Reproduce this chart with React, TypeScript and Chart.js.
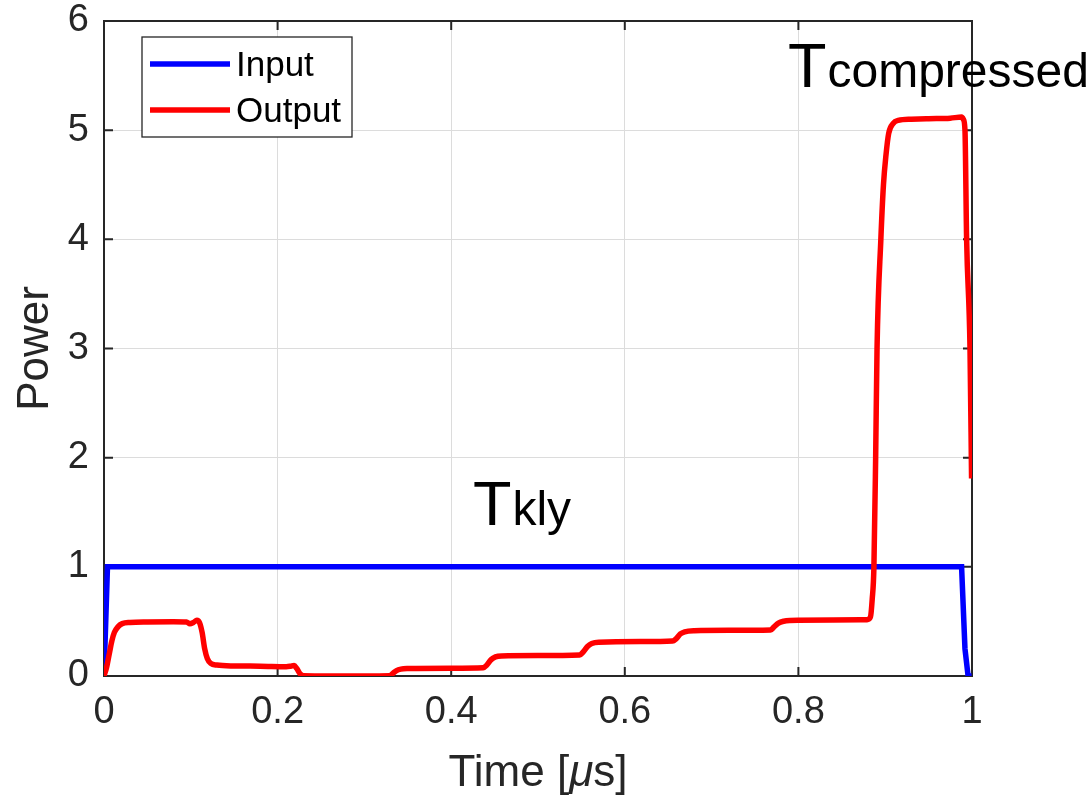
import React, { useEffect, useRef } from 'react';
import { Chart, registerables } from 'chart.js';

Chart.register(...registerables);

// ---------- data ----------
const seriesLabels = ['Input', 'Output'];

const inputTime = [0, 0.004, 0.988, 0.9919, 0.9955, 0.9995];
const inputPower = [0, 1, 1, 0.25, 0, 0];

const outputTime = [
  0, 0.003, 0.006, 0.009, 0.012, 0.016, 0.021, 0.03, 0.05, 0.08, 0.095, 0.099, 0.103, 0.107,
  0.11, 0.113, 0.116, 0.119, 0.123, 0.13, 0.15, 0.18, 0.21, 0.215, 0.219, 0.222, 0.226, 0.23,
  0.26, 0.3, 0.329, 0.333, 0.337, 0.342, 0.35, 0.4, 0.437, 0.441, 0.446, 0.451, 0.458, 0.5,
  0.548, 0.552, 0.557, 0.562, 0.57, 0.62, 0.655, 0.659, 0.664, 0.669, 0.68, 0.72, 0.768,
  0.772, 0.777, 0.783, 0.79, 0.84, 0.879, 0.883, 0.885, 0.887, 0.889, 0.8906, 0.895, 0.898,
  0.901, 0.904, 0.909, 0.915, 0.93, 0.95, 0.975, 0.988, 0.99, 0.9919, 0.9938, 0.9977, 0.9995,
];
const outputPower = [
  0, 0.08, 0.2, 0.32, 0.4, 0.45, 0.48, 0.49, 0.495, 0.497, 0.495, 0.478, 0.49, 0.51,
  0.49, 0.4, 0.25, 0.16, 0.115, 0.1, 0.092, 0.09, 0.085, 0.09, 0.097, 0.07, 0.02, 0.002,
  0, 0, 0.002, 0.025, 0.05, 0.063, 0.068, 0.072, 0.076, 0.1, 0.15, 0.175, 0.184, 0.188,
  0.193, 0.22, 0.27, 0.298, 0.31, 0.315, 0.32, 0.34, 0.385, 0.405, 0.415, 0.418, 0.422,
  0.45, 0.485, 0.502, 0.508, 0.512, 0.515, 0.54, 0.7, 1.0, 2.0, 3.0, 4.0, 4.5,
  4.78, 4.97, 5.06, 5.09, 5.1, 5.105, 5.11, 5.12, 5.1, 5.0, 4.0, 3.0, 1.81,
];

const xTicks = [0, 0.2, 0.4, 0.6, 0.8, 1];
const yTicks = [0, 1, 2, 3, 4, 5, 6];

const xTitleParts = ['Time [', '\u03bc', 's]'];
const yTitle = 'Power';
const annotationMain = ['T', 'T'];
const annotationSub = ['compressed', 'kly'];

// ---------- styles ----------
const FONT = '"Liberation Sans", Arial, Helvetica, sans-serif';
const AXIS_COLOR = '#262626';
const TICK_SIZE = 38;
const TITLE_SIZE = 44;
const LEGEND_SIZE = 35;
const LINE_W = 5.5;

const annotationPos = [
  { x: 0.788, y: 5.395 },
  { x: 0.425, y: 1.383 },
];

const boxPlugin = {
  id: 'matlabBox',
  beforeDatasetsDraw(chart: any) {
    const { ctx, chartArea: a, scales } = chart;
    const xs = scales.x;
    const ys = scales.y;
    ctx.save();
    ctx.strokeStyle = AXIS_COLOR;
    ctx.lineWidth = 2;
    ctx.strokeRect(a.left, a.top, a.right - a.left, a.bottom - a.top);
    const tl = 9;
    ctx.beginPath();
    xTicks.forEach((v) => {
      const px = xs.getPixelForValue(v);
      ctx.moveTo(px, a.bottom);
      ctx.lineTo(px, a.bottom - tl);
      ctx.moveTo(px, a.top);
      ctx.lineTo(px, a.top + tl);
    });
    yTicks.forEach((v) => {
      const py = ys.getPixelForValue(v);
      ctx.moveTo(a.left, py);
      ctx.lineTo(a.left + tl, py);
      ctx.moveTo(a.right, py);
      ctx.lineTo(a.right - tl, py);
    });
    ctx.stroke();
    ctx.restore();
  },
};

const overlayPlugin = {
  id: 'matlabOverlay',
  afterDraw(chart: any) {
    const { ctx, chartArea: a, scales } = chart;
    const xs = scales.x;
    const ys = scales.y;
    ctx.save();

    // annotations
    ctx.fillStyle = '#000000';
    ctx.textBaseline = 'alphabetic';
    ctx.textAlign = 'left';
    annotationPos.forEach((p, i) => {
      const px = xs.getPixelForValue(p.x);
      const py = ys.getPixelForValue(p.y);
      ctx.font = `63px ${FONT}`;
      ctx.fillText(annotationMain[i], px, py);
      const w = ctx.measureText(annotationMain[i]).width;
      ctx.font = `48px ${FONT}`;
      ctx.fillText(annotationSub[i], px + w + 1, py);
    });

    // x title with italic mu
    ctx.fillStyle = AXIS_COLOR;
    const normal = `${TITLE_SIZE}px ${FONT}`;
    const italic = `italic ${TITLE_SIZE}px ${FONT}`;
    const fonts = [normal, italic, normal];
    let total = 0;
    const widths = xTitleParts.map((t, i) => {
      ctx.font = fonts[i];
      const w = ctx.measureText(t).width;
      total += w;
      return w;
    });
    let x = (a.left + a.right) / 2 - total / 2;
    const ty = 786;
    xTitleParts.forEach((t, i) => {
      ctx.font = fonts[i];
      ctx.fillText(t, x, ty);
      x += widths[i];
    });

    // legend
    const lx = 142, ly = 37, lw = 210, lh = 100;
    ctx.fillStyle = '#ffffff';
    ctx.fillRect(lx, ly, lw, lh);
    ctx.strokeStyle = AXIS_COLOR;
    ctx.lineWidth = 1.3;
    ctx.strokeRect(lx, ly, lw, lh);
    const rows = [64, 110];
    chart.data.datasets.forEach((ds: any, i: number) => {
      const ry = rows[i];
      ctx.strokeStyle = ds.borderColor;
      ctx.lineWidth = LINE_W;
      ctx.beginPath();
      ctx.moveTo(150, ry);
      ctx.lineTo(230, ry);
      ctx.stroke();
      ctx.fillStyle = '#000000';
      ctx.font = `${LEGEND_SIZE}px ${FONT}`;
      ctx.textBaseline = 'middle';
      ctx.fillText(ds.label, 236, ry + 2);
    });
    ctx.restore();
  },
};

export default function App() {
  const canvasRef = useRef<HTMLCanvasElement | null>(null);

  useEffect(() => {
    document.body.style.margin = '0';
    const canvas = canvasRef.current;
    if (!canvas) return;
    const inputData = inputTime.map((t, i) => ({ x: t, y: inputPower[i] }));
    const outputData = outputTime.map((t, i) => ({ x: t, y: outputPower[i] }));

    const chart = new Chart(canvas, {
      type: 'line',
      data: {
        datasets: [
          {
            label: seriesLabels[0],
            data: inputData,
            borderColor: '#0000ff',
            backgroundColor: '#0000ff',
            borderWidth: LINE_W,
            pointRadius: 0,
            tension: 0,
            order: 2,
          },
          {
            label: seriesLabels[1],
            data: outputData,
            borderColor: '#ff0000',
            backgroundColor: '#ff0000',
            borderWidth: LINE_W,
            pointRadius: 0,
            cubicInterpolationMode: 'monotone',
            order: 1,
          },
        ],
      },
      options: {
        animation: false,
        responsive: true,
        maintainAspectRatio: false,
        layout: { padding: { top: 21, right: 119, left: 0, bottom: 0 } },
        plugins: {
          legend: { display: false },
          tooltip: { enabled: false },
        },
        scales: {
          x: {
            type: 'linear',
            min: 0,
            max: 1,
            afterBuildTicks: (scale: any) => {
              scale.ticks = xTicks.map((v) => ({ value: v }));
            },
            afterFit: (scale: any) => {
              scale.height = 122;
              scale.paddingLeft = 0;
              scale.paddingRight = 0;
            },
            ticks: {
              color: AXIS_COLOR,
              font: { family: FONT, size: TICK_SIZE },
              padding: 14,
              maxRotation: 0,
              autoSkip: false,
              callback: (v: any) => String(Math.round(Number(v) * 10) / 10),
            },
            grid: { color: '#dcdcdc', lineWidth: 1, drawTicks: false },
            border: { display: false },
          },
          y: {
            type: 'linear',
            min: 0,
            max: 6,
            afterBuildTicks: (scale: any) => {
              scale.ticks = yTicks.map((v) => ({ value: v }));
            },
            afterFit: (scale: any) => {
              scale.width = 104;
              scale.paddingTop = 0;
              scale.paddingBottom = 0;
            },
            ticks: {
              color: AXIS_COLOR,
              font: { family: FONT, size: TICK_SIZE },
              padding: 15,
              autoSkip: false,
              callback: (v: any) => String(v),
            },
            title: {
              display: true,
              text: yTitle,
              color: AXIS_COLOR,
              font: { family: FONT, size: TITLE_SIZE },
              padding: { top: 9, bottom: 0 },
            },
            grid: { color: '#dcdcdc', lineWidth: 1, drawTicks: false },
            border: { display: false },
          },
        },
      },
      plugins: [boxPlugin, overlayPlugin],
    });
    return () => chart.destroy();
  }, []);

  return (
    <div style={{ position: 'fixed', left: 0, top: 0, width: '1091px', height: '798px', background: '#ffffff' }}>
      <canvas ref={canvasRef} />
    </div>
  );
}
